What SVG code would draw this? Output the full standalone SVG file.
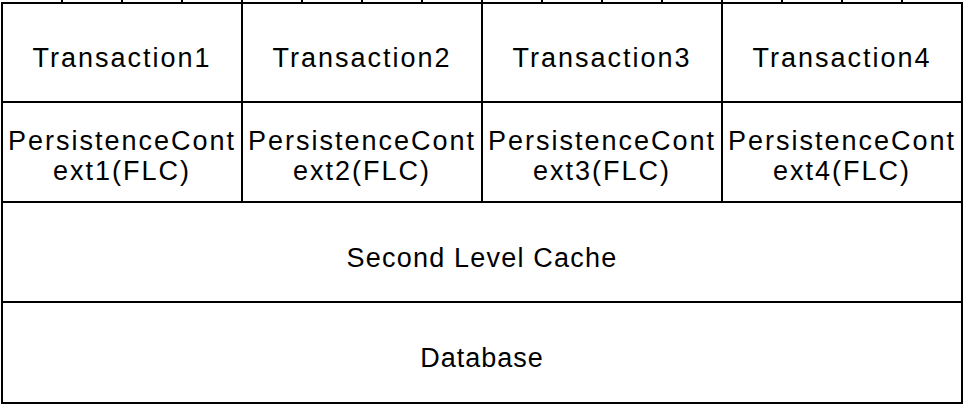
<svg xmlns="http://www.w3.org/2000/svg" width="970" height="410" viewBox="0 0 970 410">
  <style>
    .cell { fill: #ffffff; stroke: #000000; stroke-width: 2; }
    .tick { stroke: #000000; stroke-width: 2; }
    .label { font-family: "Liberation Sans", Arial, Helvetica, sans-serif; font-size: 27px; letter-spacing: 2px; fill: #000000; text-anchor: middle; }
    .wide { letter-spacing: 1.2px; }
    .short { letter-spacing: 1px; }
  </style>
  <rect x="0" y="0" width="970" height="410" fill="#ffffff"/>

  <!-- partial row of narrow cells above the table -->
  <g id="top-strip">
    <line class="tick" x1="2" y1="3" x2="962" y2="3"/>
    <line class="tick" x1="62" y1="-1" x2="62" y2="3"/>
    <line class="tick" x1="122" y1="-1" x2="122" y2="3"/>
    <line class="tick" x1="182" y1="-1" x2="182" y2="3"/>
    <line class="tick" x1="242" y1="-1" x2="242" y2="3"/>
    <line class="tick" x1="302" y1="-1" x2="302" y2="3"/>
    <line class="tick" x1="362" y1="-1" x2="362" y2="3"/>
    <line class="tick" x1="422" y1="-1" x2="422" y2="3"/>
    <line class="tick" x1="482" y1="-1" x2="482" y2="3"/>
    <line class="tick" x1="542" y1="-1" x2="542" y2="3"/>
    <line class="tick" x1="602" y1="-1" x2="602" y2="3"/>
    <line class="tick" x1="662" y1="-1" x2="662" y2="3"/>
    <line class="tick" x1="722" y1="-1" x2="722" y2="3"/>
    <line class="tick" x1="782" y1="-1" x2="782" y2="3"/>
    <line class="tick" x1="842" y1="-1" x2="842" y2="3"/>
    <line class="tick" x1="902" y1="-1" x2="902" y2="3"/>
  </g>

  <g id="transaction1">
    <rect class="cell" x="2" y="3" width="240" height="99"/>
    <text class="label" x="122" y="67">Transaction1</text>
  </g>
  <g id="transaction2">
    <rect class="cell" x="242" y="3" width="240" height="99"/>
    <text class="label" x="362" y="67">Transaction2</text>
  </g>
  <g id="transaction3">
    <rect class="cell" x="482" y="3" width="240" height="99"/>
    <text class="label" x="602" y="67">Transaction3</text>
  </g>
  <g id="transaction4">
    <rect class="cell" x="722" y="3" width="240" height="99"/>
    <text class="label" x="842" y="67">Transaction4</text>
  </g>

  <g id="pc1">
    <rect class="cell" x="2" y="102" width="240" height="100"/>
    <text class="label" x="122" y="150">PersistenceCont</text>
    <text class="label" x="122" y="180">ext1(FLC)</text>
  </g>
  <g id="pc2">
    <rect class="cell" x="242" y="102" width="240" height="100"/>
    <text class="label" x="362" y="150">PersistenceCont</text>
    <text class="label" x="362" y="180">ext2(FLC)</text>
  </g>
  <g id="pc3">
    <rect class="cell" x="482" y="102" width="240" height="100"/>
    <text class="label" x="602" y="150">PersistenceCont</text>
    <text class="label" x="602" y="180">ext3(FLC)</text>
  </g>
  <g id="pc4">
    <rect class="cell" x="722" y="102" width="240" height="100"/>
    <text class="label" x="842" y="150">PersistenceCont</text>
    <text class="label" x="842" y="180">ext4(FLC)</text>
  </g>

  <g id="second-level-cache">
    <rect class="cell" x="2" y="202" width="960" height="100"/>
    <text class="label wide" x="482" y="267">Second Level Cache</text>
  </g>

  <g id="database">
    <rect class="cell" x="2" y="302" width="960" height="101"/>
    <text class="label short" x="482" y="367">Database</text>
  </g>

  <g id="connectors"></g>
</svg>
